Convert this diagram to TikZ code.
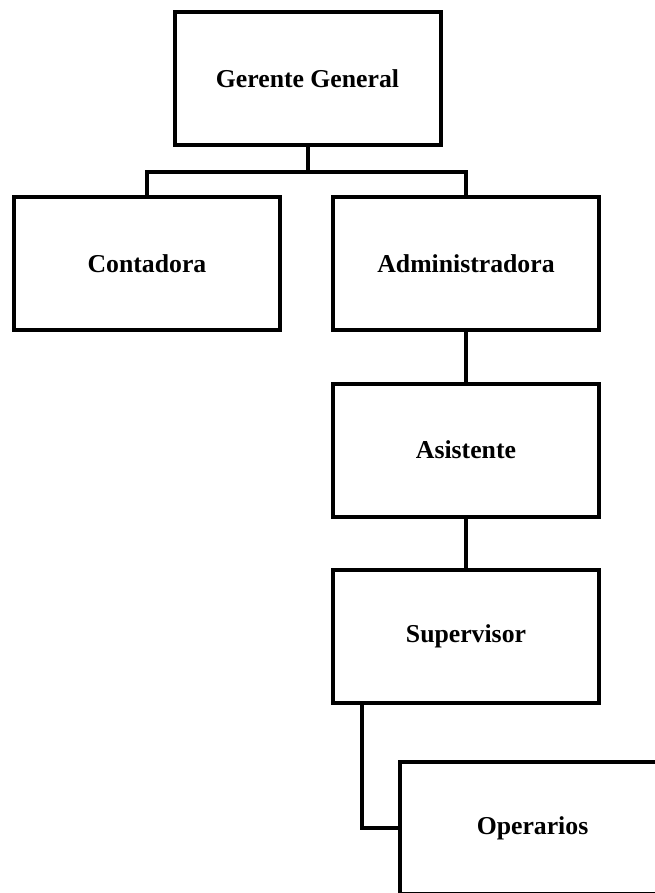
\documentclass[tikz,border=0pt]{standalone}
\usepackage{fontspec}
\setmainfont{Liberation Serif}
\begin{document}
\begin{tikzpicture}[x=0.75pt,y=-0.75pt,
  box/.style={draw=black,line width=3pt,fill=white,inner sep=0pt,
    font=\fontsize{19.3}{23}\selectfont\bfseries},
  conn/.style={draw=black,line width=3pt}]
\useasboundingbox (0,0) rectangle (655,893);
\node[box,minimum width=266*0.75pt,minimum height=133*0.75pt] (g) at (307.5,78.5) {Gerente General};
\node[box,minimum width=266*0.75pt,minimum height=133*0.75pt] (c) at (147,263.5) {Contadora};
\node[box,minimum width=266*0.75pt,minimum height=133*0.75pt] (a) at (466,263.5) {Administradora};
\node[box,minimum width=266*0.75pt,minimum height=133*0.75pt] (as) at (466,450) {Asistente};
\node[box,minimum width=266*0.75pt,minimum height=133*0.75pt] (s) at (466,636.5) {Supervisor};
\node[box,minimum width=265*0.75pt,minimum height=132*0.75pt] (o) at (532.5,828) {Operarios};
\coordinate (hb) at (307.5,172);
\draw[conn] (g.south) -- (hb);
\draw[conn] (c.north) |- (hb) -| (a.north);
\draw[conn] (a.south) -- (as.north);
\draw[conn] (as.south) -- (s.north);
\draw[conn] (s.south -| 362,0) |- (o.west);
\end{tikzpicture}
\end{document}
